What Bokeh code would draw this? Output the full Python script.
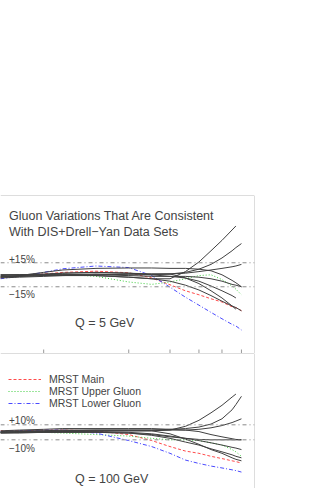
import numpy as np
from bokeh.plotting import figure
from bokeh.layouts import column
from bokeh.models import Range1d, Span, Label, Legend, LegendItem
from bokeh.embed import file_html
from bokeh.resources import INLINE

nan = float("nan")

# Bjorken x grid (axis is drawn on an x^(1/3) scale)
X_GRID = [0.0007, 0.003, 0.01, 0.02, 0.05, 0.1, 0.15, 0.2, 0.25, 0.3, 0.35, 0.4, 0.45, 0.47, 0.5]
X_TICKS = [0.01, 0.1, 0.2, 0.3, 0.4, 0.5]
X_RANGE = (0.000709, 0.5757)

# ---- Q = 5 GeV : ratio to reference gluon ----
MAIN_5 = [0.96, 0.98, 1.01, 1.03, 1.045, 1.025, 0.96, 0.875, 0.80, 0.75, 0.70, 0.66, 0.60, 0.59, 0.55]
UPPER_5 = [0.96, 0.98, 1.0, 1.01, 0.98, 0.91, 0.88, 0.91, 0.95, 0.99, 1.0, 0.94, 0.86, 0.82, 0.75]
LOWER_5 = [0.95, 0.98, 1.03, 1.075, 1.11, 1.09, 0.99, 0.845, 0.72, 0.62, 0.53, 0.45, 0.38, 0.36, 0.31]
VAR_5 = [
    [1.0, 1.0, 1.0, 1.0, 0.99, 0.97, 0.95, 0.95, 1.04, 1.16, 1.30, 1.43, 1.56, 1.61, nan],
    [0.98, 0.99, 1.0, 1.02, 1.03, 1.02, 1.01, 1.01, 1.03, 1.07, 1.13, 1.21, 1.30, 1.34, 1.39],
    [0.97, 0.98, 0.99, 1.0, 1.01, 1.0, 1.0, 1.01, 1.02, 1.04, 1.06, 1.08, 1.10, 1.11, 1.13],
    [0.97, 0.99, 1.03, 1.06, 1.08, 1.085, 1.085, 1.08, 1.08, 1.07, 1.05, 1.0, 0.93, 0.90, 0.85],
    [0.99, 1.0, 1.0, 1.0, 1.0, 0.99, 0.98, 0.98, 0.98, 0.97, 0.95, 0.92, 0.88, 0.87, 0.85],
    [1.0, 1.0, 1.01, 1.02, 1.03, 1.02, 1.0, 0.98, 0.96, 0.92, 0.86, 0.80, 0.74, 0.71, nan],
    [0.96, 0.97, 0.98, 0.99, 1.0, 1.01, 1.01, 1.01, 0.96, 0.89, 0.80, 0.71, 0.61, 0.57, nan],
    [0.98, 0.98, 0.99, 0.99, 0.99, 0.97, 0.95, 0.92, 0.87, 0.81, 0.74, 0.67, 0.61, 0.59, 0.55],
]

# ---- Q = 100 GeV ----
MAIN_100 = [1.02, 1.02, 1.03, 1.03, 1.02, 0.97, 0.89, 0.81, 0.75, 0.72, 0.68, 0.65, 0.62, 0.61, 0.59]
UPPER_100 = [1.0, 1.0, 1.0, 0.99, 0.97, 0.95, 0.92, 0.90, 0.90, 0.89, 0.86, 0.83, 0.77, 0.74, 0.68]
LOWER_100 = [1.01, 1.02, 1.03, 1.03, 0.99, 0.89, 0.81, 0.72, 0.63, 0.585, 0.55, 0.525, 0.50, 0.49, 0.47]
VAR_100 = [
    [1.0, 1.0, 1.01, 1.01, 1.02, 1.02, 1.02, 1.03, 1.08, 1.16, 1.26, 1.36, 1.47, 1.51, nan],
    [1.0, 1.01, 1.02, 1.02, 1.03, 1.03, 1.03, 1.04, 1.05, 1.07, 1.11, 1.18, 1.30, 1.37, 1.48],
    [1.01, 1.02, 1.02, 1.03, 1.03, 1.03, 1.03, 1.03, 1.03, 1.04, 1.06, 1.09, 1.13, 1.15, 1.18],
    [1.02, 1.03, 1.04, 1.05, 1.05, 1.05, 1.05, 1.04, 1.03, 1.01, 0.97, 0.94, 0.915, 0.905, 0.90],
    [0.99, 1.0, 1.0, 1.0, 1.0, 0.99, 0.97, 0.94, 0.92, 0.905, 0.90, 0.90, 0.90, 0.90, 0.90],
    [1.0, 1.0, 1.0, 1.01, 1.01, 1.0, 0.98, 0.95, 0.92, 0.89, 0.86, 0.83, 0.80, 0.79, 0.77],
    [0.99, 0.99, 1.0, 1.0, 1.0, 0.99, 0.96, 0.92, 0.87, 0.83, 0.78, 0.74, 0.70, 0.68, 0.66],
    [1.0, 1.01, 1.01, 1.02, 1.02, 1.02, 1.02, 0.98, 0.91, 0.84, 0.77, 0.72, 0.66, 0.64, 0.62],
]

BAND_5 = [1.15, 0.85]
BAND_100 = [1.10, 0.90]
LEGEND_LABELS = ["MRST Main", "MRST Upper Gluon", "MRST Lower Gluon"]

FONT = "Liberation Sans"
TXT = "#444444"
BORDER = "#bbbbbb"
BLACK = "#404040"
RED, GREEN, BLUE = "#ff4a4a", "#3ccc3c", "#4a4aff"

u = np.cbrt(np.array(X_GRID))
xr = Range1d(*np.cbrt(np.array(X_RANGE)))


def base(height, yr, top):
    p = figure(width=325, height=height, x_range=xr, y_range=yr,
               output_backend="svg", toolbar_location=None,
               x_axis_location=None, y_axis_location=None,
               min_border_left=0, min_border_right=71, min_border_top=top,
               min_border_bottom=0)
    p.outline_line_color = None
    p.grid.visible = False
    p.background_fill_color = "white"
    p.border_fill_color = "white"
    p.add_layout(Span(location=xr.end, dimension="height", line_color=BORDER, line_width=1))
    p.add_layout(Span(location=yr.end, dimension="width", line_color=BORDER, line_width=1))
    return p


def draw(p, main, upper, lower, variations, band):
    for b in band:
        p.add_layout(Span(location=b, dimension="width", line_color="#8a8a8a",
                          line_width=1, line_dash="4 3 1 3"))
    rm = p.line(u, main, line_color=RED, line_width=1, line_dash="3 2")
    ru = p.line(u, upper, line_color=GREEN, line_width=1, line_dash="1 2")
    rl = p.line(u, lower, line_color=BLUE, line_width=1, line_dash="4 2 1 2")
    for v in variations:
        p.line(u, v, line_color=BLACK, line_width=1)
    return rm, ru, rl


def label(p, x, y, text, size):
    p.add_layout(Label(x=x, y=y, x_units="screen", y_units="screen", text=text,
                       text_font=FONT, text_font_size=size, text_color=TXT,
                       text_baseline="middle", text_align="left"))


# top panel
yr1 = Range1d(0.016, 1.991)
p1 = base(353, yr1, 195)
tk = np.cbrt(np.array(X_TICKS))
p1.segment(x0=tk, y0=[yr1.start] * len(tk), x1=tk, y1=[yr1.start + 0.05] * len(tk),
           line_color="#999999", line_width=1)
draw(p1, MAIN_5, UPPER_5, LOWER_5, VAR_5, BAND_5)
label(p1, 8.5, 137.3, "Gluon Variations That Are Consistent", "12.5px")
label(p1, 8.5, 121.7, "With DIS+Drell\u2212Yan Data Sets", "12.5px")
label(p1, 8.5, 94, "+15%", "10px")
label(p1, 8.5, 59, "\u221215%", "10px")
label(p1, 74.5, 31, "Q = 5 GeV", "12.5px")

# bottom panel (its top border is the separator between the panels)
p2 = base(135, Range1d(0.251, 2.051), 0)
rm, ru, rl = draw(p2, MAIN_100, UPPER_100, LOWER_100, VAR_100, BAND_100)
legend = Legend(items=[LegendItem(label=LEGEND_LABELS[0], renderers=[rm]),
                       LegendItem(label=LEGEND_LABELS[1], renderers=[ru]),
                       LegendItem(label=LEGEND_LABELS[2], renderers=[rl])],
                location=(8, 78.7), glyph_width=33, glyph_height=12, label_height=12,
                label_standoff=8, spacing=0, padding=0, margin=0,
                border_line_color=None, background_fill_alpha=0,
                label_text_font=FONT, label_text_font_size="10.5px", label_text_color=TXT)
p2.add_layout(legend)
label(p2, 8.5, 68, "+10%", "10px")
label(p2, 8.5, 40.3, "\u221210%", "10px")
label(p2, 74.5, 9.3, "Q = 100 GeV", "12.5px")

layout = column(p1, p2, spacing=0)
open("out.html", "w").write(file_html(layout, INLINE))
